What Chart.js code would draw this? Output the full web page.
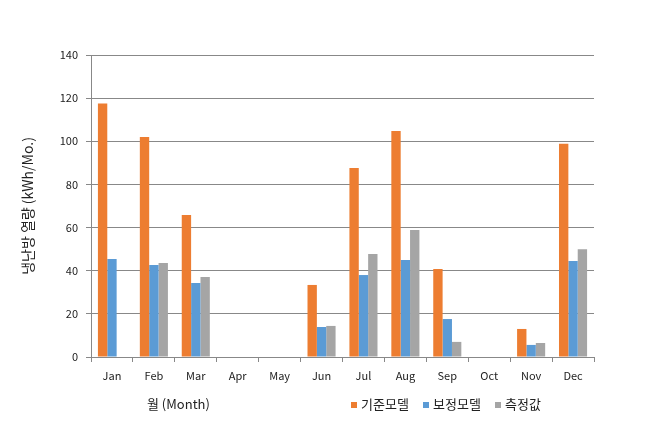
<!DOCTYPE html>
<html>
<head>
<meta charset="utf-8">
<script src="https://cdn.jsdelivr.net/npm/chart.js@4"></script>
<style>
  html, body { margin: 0; padding: 0; background: #fff; }
  #wrap { width: 653px; height: 424px; position: relative; }
</style>
</head>
<body>
<div id="wrap"><canvas id="myChart" width="653" height="424"></canvas></div>
<script>
const months = ['Jan', 'Feb', 'Mar', 'Apr', 'May', 'Jun', 'Jul', 'Aug', 'Sep', 'Oct', 'Nov', 'Dec']
const baseModel = [117.5, 102, 65.8, 0, 0, 33.4, 87.6, 104.8, 40.8, 0, 13, 98.8]
const calibModel = [45.4, 42.7, 34.3, 0, 0, 13.9, 38, 45, 17.6, 0, 5.6, 44.5]
const measured = [null, 43.6, 37.1, 0, 0, 14.4, 47.8, 58.9, 7, 0, 6.5, 50]
const yTicks = [0, 20, 40, 60, 80, 100, 120, 140]

const seriesNames = ['기준모델', '보정모델', '측정값']
const colors = ['#ED7D31', '#5B9BD5', '#A5A5A5']
const font = "'Noto Sans CJK KR', 'Noto Sans', sans-serif"

// x-axis title and legend drawn under the plot
const bottomText = {
    id: 'bottomText',
    afterDraw(chart) {
        const ctx = chart.ctx
        ctx.save()
        ctx.textBaseline = 'middle'
        ctx.fillStyle = '#222'
        ctx.font = `13px ${font}`
        ctx.textAlign = 'left'
        ctx.fillText('월 (Month)', 147, 404)

        const xs = [351, 423, 495]
        ctx.font = `13px ${font}`
        seriesNames.forEach((name, i) => {
            ctx.fillStyle = colors[i]
            ctx.fillRect(xs[i], 402, 6, 6)
            ctx.fillStyle = '#222'
            ctx.fillText(name, xs[i] + 10, 404)
        })
        ctx.restore()
    }
}

const ctx = document.getElementById('myChart').getContext('2d')

const myChart = new Chart(ctx, {
    type: 'bar',
    data: {
        labels: months,
        datasets: [
            { label: seriesNames[0], data: baseModel, backgroundColor: colors[0] },
            { label: seriesNames[1], data: calibModel, backgroundColor: colors[1] },
            { label: seriesNames[2], data: measured, backgroundColor: colors[2] }
        ]
    },
    options: {
        responsive: false,
        animation: false,
        layout: { padding: { top: 55, right: 59, bottom: 0, left: 0 } },
        datasets: {
            bar: { categoryPercentage: 0.67, barPercentage: 1, borderWidth: 0 }
        },
        plugins: {
            legend: { display: false },
            tooltip: { enabled: false }
        },
        scales: {
            x: {
                afterFit: (scale) => { scale.height = 67 },
                grid: { offset: true, drawOnChartArea: false, drawTicks: true, tickLength: 5, color: '#888' },
                border: { color: '#888' },
                ticks: { color: '#222', padding: 7, font: { family: font, size: 11 } }
            },
            y: {
                min: 0,
                max: 140,
                afterFit: (scale) => { scale.width = 91 },
                afterBuildTicks: (scale) => { scale.ticks = yTicks.map(v => ({ value: v })) },
                grid: { color: '#888', tickLength: 5 },
                border: { color: '#888' },
                ticks: { color: '#222', padding: 8, font: { family: font, size: 11 } },
                title: {
                    display: true,
                    text: '냉난방 열량 (kWh/Mo.)',
                    color: '#222',
                    padding: { top: 19, bottom: 0 },
                    font: { family: font, size: 14 }
                }
            }
        }
    },
    plugins: [bottomText]
})
</script>
</body>
</html>
